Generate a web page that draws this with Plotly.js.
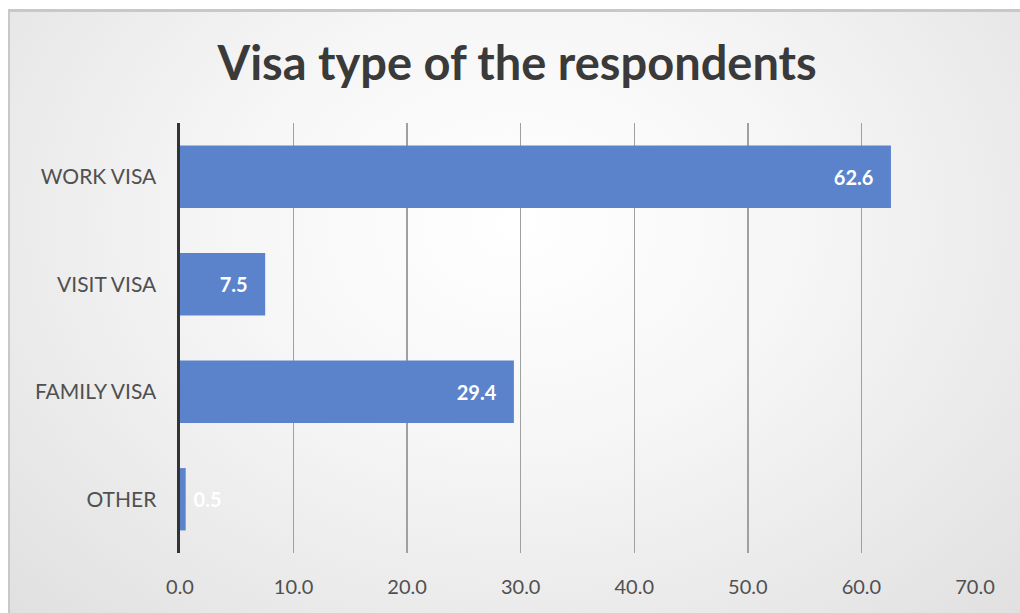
<!DOCTYPE html>
<html><head><meta charset="utf-8">
<script src="https://cdn.plot.ly/plotly-3.0.1.min.js"></script>
<style>
html,body{margin:0;padding:0;background:#ffffff;}
#frame{position:absolute;left:8px;top:9px;width:1012px;height:604px;border-top:3px solid #c8c8c8;border-left:2px solid #c8c8c8;
background:radial-gradient(ellipse at 50% 35%, #ffffff 0%, #f6f6f6 40%, #e0e0e0 100%);}
#chart{position:absolute;left:0;top:0;width:1020px;height:613px;}
</style></head>
<body>
<div id="frame"></div>
<div id="chart"></div>
<script>
const categories = ["WORK VISA", "VISIT VISA", "FAMILY VISA", "OTHER"];
const values = [62.6, 7.5, 29.4, 0.5];
const tickVals = [0, 10, 20, 30, 40, 50, 60, 70];
const tickText = ["0.0", "10.0", "20.0", "30.0", "40.0", "50.0", "60.0", "70.0"];
const textPos = ["inside", "inside", "inside", "outside"];

const NB = "\u00a0";
const labels = values.map((v, i) => textPos[i] === "inside"
  ? v.toFixed(1) + NB + NB + NB
  : NB + v.toFixed(1));

const fnt = "Lato, 'Open Sans', sans-serif";
const trace = {
  type: "bar",
  orientation: "h",
  y: categories,
  x: values,
  text: labels,
  textposition: textPos,
  insidetextanchor: "end",
  cliponaxis: false,
  textfont: {family: fnt, size: 20, color: "#ffffff", weight: "bold"},
  insidetextfont: {family: fnt, size: 20, color: "#ffffff", weight: "bold"},
  outsidetextfont: {family: fnt, size: 20, color: "#ffffff", weight: "bold"},
  marker: {color: "#5b83cc"},
  hoverinfo: "none"
};

const layout = {
  width: 1020, height: 613,
  paper_bgcolor: "rgba(0,0,0,0)",
  plot_bgcolor: "rgba(0,0,0,0)",
  margin: {l: 180, r: 45, t: 123, b: 60},
  bargap: 0.42,
  showlegend: false,
  title: {
    text: "<b>Visa type of the respondents</b>",
    x: 0.507, xanchor: "center", y: 0.897, yanchor: "middle",
    font: {family: fnt, size: 47, color: "#3a3a3a"}
  },
  xaxis: {
    range: [0, 70],
    tickvals: tickVals,
    ticktext: tickText,
    showgrid: true,
    gridcolor: "#a0a0a0",
    gridwidth: 1.5,
    zeroline: false,
    showline: false,
    ticks: "",
    ticklabelstandoff: 20,
    tickfont: {family: fnt, size: 20, color: "#505050"},
    fixedrange: true
  },
  yaxis: {
    categoryorder: "array",
    categoryarray: categories,
    autorange: "reversed",
    showline: true,
    linecolor: "#333333",
    linewidth: 3.5,
    showgrid: false,
    ticks: "",
    ticklabelstandoff: 16,
    tickfont: {family: fnt, size: 21, color: "#505050"},
    fixedrange: true
  }
};

Plotly.newPlot("chart", [trace], layout, {displayModeBar: false, staticPlot: true});
</script>
</body></html>
